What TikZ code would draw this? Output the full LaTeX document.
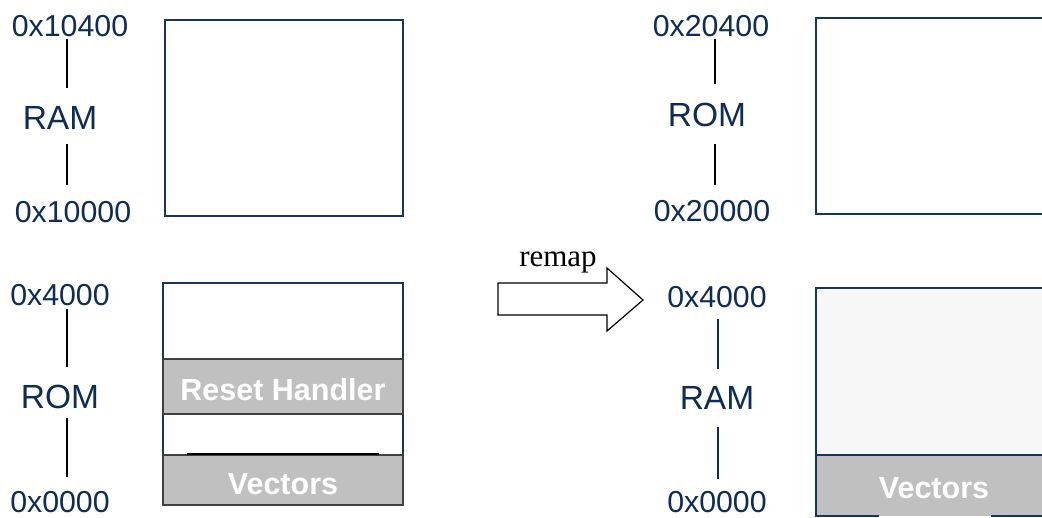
\documentclass[tikz,border=0pt]{standalone}
\usepackage{fontspec}
\setmainfont{Liberation Serif}
\setsansfont{Liberation Sans}
\definecolor{navy}{HTML}{0E2C55}
\definecolor{boxline}{HTML}{17365D}
\definecolor{band}{HTML}{C0C0C0}
\definecolor{bandline}{HTML}{404040}
\definecolor{pale}{HTML}{F7F7F7}
\tikzset{
  addr/.style={anchor=base, inner sep=0pt, text=navy,
    font=\sffamily\fontsize{30.3}{35}\selectfont},
  memname/.style={anchor=base, inner sep=0pt, text=navy,
    font=\sffamily\fontsize{33.5}{38}\selectfont},
  region/.style={draw=boxline, line width=1.5pt},
  bandbox/.style={draw=bandline, fill=band, line width=1.5pt},
  bandtext/.style={anchor=base, inner sep=0pt, text=white,
    font=\sffamily\bfseries\fontsize{30.5}{35}\selectfont},
  span/.style={line width=1.6pt},
}
\begin{document}
\begin{tikzpicture}[x=1pt, y=-1pt]
\clip (0,0) rectangle (1042,518);
\fill[white] (0,0) rectangle (1042,518);

% ---------- before remap ----------
% RAM at 0x10000
\draw[region] (165,20) rectangle (403,216);
\node[addr] (a1) at (70,37) {0x10400};
\node[memname] (n1) at (60,130) {RAM};
\node[addr] (a2) at (73,223) {0x10000};
\coordinate (l1a) at (67,39);  \coordinate (l1b) at (67,88);
\coordinate (l1c) at (67,144); \coordinate (l1d) at (67,185);
\draw[span] (l1a) -- (l1b);
\draw[span] (l1c) -- (l1d);

% ROM at 0x0000
\draw[region] (163,283) rectangle (403,505);
\draw[bandbox] (163,359) rectangle (403,414);
\node[bandtext] (rh) at (283,401) {Reset Handler};
\draw[bandbox] (163,455) rectangle (403,505);
\coordinate (vl) at (187,454); \coordinate (vr) at (379,454);
\draw[line width=2.2pt] (vl) -- (vr);
\node[bandtext] (v1) at (283,495) {Vectors};
\node[addr] (a3) at (60,306) {0x4000};
\node[memname] (n2) at (60,409) {ROM};
\node[addr] (a4) at (60,512) {0x0000};
\coordinate (l2a) at (67,309); \coordinate (l2b) at (67,367);
\coordinate (l2c) at (67,418); \coordinate (l2d) at (67,477);
\draw[span] (l2a) -- (l2b);
\draw[span] (l2c) -- (l2d);

% ---------- remap arrow ----------
\node[anchor=base, inner sep=0pt, font=\fontsize{31}{36}\selectfont] (rm) at (558,267) {remap};
\draw[line width=1.2pt, fill=white, line join=miter]
  (498,283) -- (607,283) -- (607,268) -- (643,300) -- (607,331) -- (607,315) -- (498,315) -- cycle;

% ---------- after remap ----------
% ROM at 0x20000
\draw[region] (816,18) rectangle (1060,214);
\node[addr] (b1) at (711,37) {0x20400};
\node[memname] (m1) at (707,127) {ROM};
\node[addr] (b2) at (712,222) {0x20000};
\coordinate (r1a) at (715,39);  \coordinate (r1b) at (715,84);
\coordinate (r1c) at (715,144); \coordinate (r1d) at (715,185);
\draw[span] (r1a) -- (r1b);
\draw[span] (r1c) -- (r1d);

% RAM at 0x0000
\fill[pale] (816,288) rectangle (1060,455);
\fill[band] (816,455) rectangle (1060,516);
\draw[region] (1060,288) -- (816,288) -- (816,516) -- (879,516);
\draw[region] (991,516) -- (1060,516);
\draw[region] (816,455) -- (1060,455);
\node[bandtext] (v2) at (934,498) {Vectors};
\node[addr] (b3) at (717,308) {0x4000};
\node[memname] (m2) at (717,410) {RAM};
\node[addr] (b4) at (717,512) {0x0000};
\coordinate (r2a) at (718,319); \coordinate (r2b) at (718,369);
\coordinate (r2c) at (718,427); \coordinate (r2d) at (718,479);
\draw[span, draw=navy] (r2a) -- (r2b);
\draw[span, draw=navy] (r2c) -- (r2d);
\end{tikzpicture}
\end{document}
